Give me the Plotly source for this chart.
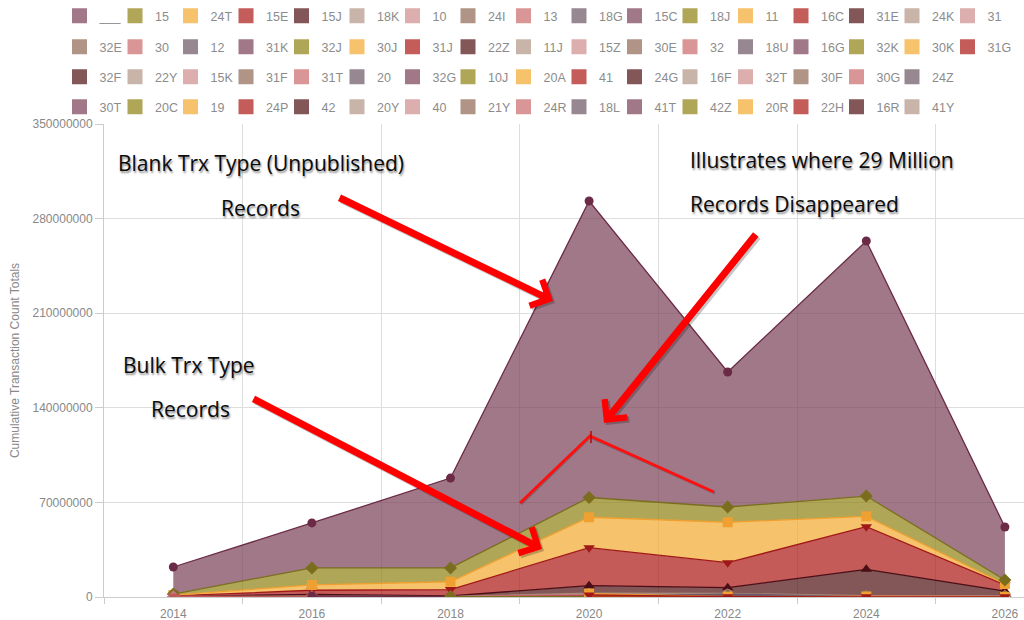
import plotly.graph_objects as go

# ---------------- data ----------------
years = [2014, 2016, 2018, 2020, 2022, 2024, 2026]

legend_row1 = ["___", "15", "24T", "15E", "15J", "18K", "10", "24I", "13", "18G",
               "15C", "18J", "11", "16C", "31E", "24K", "31"]
legend_row2 = ["32E", "30", "12", "31K", "32J", "30J", "31J", "22Z", "11J", "15Z",
               "30E", "32", "18U", "16G", "32K", "30K", "31G"]
legend_row3 = ["32F", "22Y", "15K", "31F", "31T", "20", "32G", "10J", "20A", "41",
               "24G", "16F", "32T", "30F", "30G", "24Z"]
legend_row4 = ["30T", "20C", "19", "24P", "42", "20Y", "40", "21Y", "24R", "18L",
               "41T", "42Z", "20R", "22H", "16R", "41Y"]

# cumulative transaction count totals, in millions
blank_trx = [22.2, 54.8, 88.0, 293.0, 166.5, 263.4, 51.8]
trx_15 = [2.2, 21.5, 21.5, 73.6, 66.6, 74.7, 12.6]
trx_24T = [1.4, 8.9, 11.3, 59.0, 55.3, 59.7, 9.6]
trx_15E = [0.8, 5.0, 5.5, 36.5, 25.4, 52.0, 8.9]
trx_15J = [0.3, 2.0, 0.8, 8.4, 6.9, 20.5, 4.4]
# small series near the baseline, in millions
trx_18K = [0.2, 0.6, 0.3, 2.8, 2.6, 1.0, 0.8]
trx_10 = [0.1, 0.4, 0.2, 2.0, 1.6, 0.6, 0.5]
trx_13 = [0.6, 0.2, 0.1, 1.2, 0.9, 0.3, 0.3]
trx_18G = [None, None, None, 0.6, 2.2, 0.2, 0.2]
trx_15C = [None, 0.8, 0.2, 0.4, 0.5, 0.2, 0.1]
trx_18J = [None, None, 0.3, 0.3, 0.4, 0.2, 0.1]
trx_11 = [None, None, None, 2.5, 0.3, 0.4, 0.2]
trx_16C = [None, None, None, 1.5, 0.2, 0.1, 0.1]

y_ticks = [0, 70000000, 140000000, 210000000, 280000000, 350000000]
x_ticks = [2014, 2016, 2018, 2020, 2022, 2024, 2026]
x_grid = [2013, 2015, 2017, 2019, 2021, 2023, 2025]

# ---------------- style ----------------
swatch = ["#a07888", "#b0a658", "#f6c26c", "#c45c5a", "#835658",
          "#c9b4aa", "#dcaeae", "#b09486", "#da9696", "#968790"]
fills = ["rgba(119,62,85,0.7)", "rgba(142,128,16,0.7)", "rgba(242,168,45,0.7)",
         "rgba(171,22,19,0.7)", "rgba(78,14,16,0.7)", "rgba(178,148,134,0.7)",
         "rgba(205,139,139,0.7)", "rgba(142,102,82,0.7)", "rgba(202,105,105,0.7)",
         "rgba(105,84,96,0.7)"]
lines = ["#6b2a45", "#7a6e1e", "#f0a030", "#a01818", "#4a0e14",
         "#a88a7a", "#c47a7a", "#8a6a58", "#c05858", "#6a5868"]
symbols = ["circle", "diamond", "square", "triangle-down", "triangle-up"]

all_names = legend_row1 + legend_row2 + legend_row3 + legend_row4
idx = {n: i for i, n in enumerate(all_names)}

fig = go.Figure()


def add_series(name, vals, fill):
    i = idx[name]
    fig.add_trace(go.Scatter(
        x=years, y=[None if v is None else v * 1e6 for v in vals],
        name=name, legendgroup=name, showlegend=False,
        mode="lines+markers", fill=fill, fillcolor=fills[i % 10],
        line=dict(color=lines[i % 10], width=1.3),
        marker=dict(symbol=symbols[i % 5], size=9 if i % 5 == 0 else 10,
                    color=lines[i % 10]),
    ))


# main stack, bottom to top
add_series("15J", trx_15J, "tozeroy")
add_series("15E", trx_15E, "tonexty")
add_series("24T", trx_24T, "tonexty")
add_series("15", trx_15, "tonexty")
add_series("___", blank_trx, "tonexty")
for nm, vals in [("18K", trx_18K), ("10", trx_10), ("13", trx_13), ("18G", trx_18G),
                 ("15C", trx_15C), ("18J", trx_18J), ("11", trx_11), ("16C", trx_16C)]:
    add_series(nm, vals, "tozeroy")

# legend entries (square swatches), one legend per row
legend_ids = ["legend", "legend2", "legend3", "legend4"]
for r, row in enumerate([legend_row1, legend_row2, legend_row3, legend_row4]):
    for k, nm in enumerate(row):
        i = idx[nm]
        fig.add_trace(go.Scatter(
            x=[None], y=[None], mode="markers", name=nm, legendgroup=nm,
            legend=legend_ids[r], showlegend=True, hoverinfo="skip",
            legendwidth=(40 if k == len(row) - 1 else None),
            marker=dict(symbol="square", size=15, color=swatch[i % 10],
                        line=dict(width=0)),
        ))

# ---------------- layout ----------------
L, R, T, B = 104, 0, 124, 23
W, H = 1024, 620
PW, PH = W - L - R, H - T - B
x_lo = 2013.0
px_per_year = 69.3
x_hi = x_lo + PW / px_per_year
y_hi = 350000000


def xd(px):
    return x_lo + (px - L) / px_per_year


def yd(py):
    return (H - B - py) / PH * y_hi


def ypaper(py):
    return (H - B - py) / PH


leg_font = dict(family="Arial", size=12.5, color="#8c8c8c")
row_centers = [16, 47, 77, 107]
leg_x = (59.5 - L) / PW
legend_cfg = {}
for r, lid in enumerate(legend_ids):
    legend_cfg[lid] = dict(
        orientation="h", x=leg_x, xanchor="left", y=ypaper(row_centers[r]),
        yanchor="middle", entrywidth=10.5, entrywidthmode="pixels",
        font=leg_font, bgcolor="rgba(0,0,0,0)", borderwidth=0,
    )

ann_font = dict(family="Open Sans", size=21, color="#0a0a0a",
                shadow="1px 2px 2px rgba(0,0,0,0.45)")
annotations = []
for text, px, py, anchor in [
    ("Blank Trx Type (Unpublished)", 260.5, 163, "center"),
    ("Records", 260, 208, "center"),
    ("Illustrates where 29 Million", 688, 160, "left"),
    ("Records Disappeared", 688, 204, "left"),
    ("Bulk Trx Type", 188.5, 365, "center"),
    ("Records", 190, 409, "center"),
]:
    annotations.append(dict(x=xd(px), y=yd(py), xref="x", yref="y", text=text,
                            showarrow=False, xanchor=anchor, yanchor="middle",
                            font=ann_font))

arrows = [((338, 197), (553, 301)),
          ((757, 233), (604, 423)),
          ((252, 398), (542, 549))]
# soft drop shadow first, then the red arrow
for dxp, dyp, col in [(2, 2, "rgba(0,0,0,0.22)"), (0, 0, "#ff0000")]:
    for (tx, ty), (hx, hy) in arrows:
        annotations.append(dict(x=xd(hx + dxp), y=yd(hy + dyp),
                                ax=xd(tx + dxp), ay=yd(ty + dyp),
                                xref="x", yref="y", axref="x", ayref="y", text="",
                                showarrow=True, arrowhead=4, arrowsize=0.8,
                                arrowwidth=7, arrowcolor=col, standoff=0))

shapes = [
    dict(type="path", xref="x", yref="y",
         path="M {} {} L {} {} L {} {}".format(xd(521), yd(504), xd(590), yd(437),
                                              xd(715), yd(493)),
         line=dict(color="rgba(0,0,0,0.2)", width=3)),
    dict(type="path", xref="x", yref="y",
         path="M {} {} L {} {} L {} {}".format(xd(520), yd(503), xd(590), yd(436),
                                              xd(714), yd(492)),
         line=dict(color="#ff1010", width=3)),
    dict(type="line", xref="x", yref="y", x0=xd(591), x1=xd(591), y0=yd(431),
         y1=yd(443), line=dict(color="#c00000", width=1.5)),
]

fig.update_layout(
    width=W, height=H,
    margin=dict(l=L, r=R, t=T, b=B, autoexpand=False),
    paper_bgcolor="white", plot_bgcolor="white",
    font=dict(family="Arial", color="#888888", size=12),
    showlegend=True,
    annotations=annotations, shapes=shapes,
    hovermode="closest",
    **legend_cfg,
)
fig.update_xaxes(
    range=[x_lo, x_hi], tickvals=x_ticks, ticktext=[str(v) for v in x_ticks],
    ticks="outside", ticklen=6, tickcolor="rgba(0,0,0,0)", showgrid=False,
    showline=True, linecolor="#cccccc", linewidth=1, zeroline=False,
    tickfont=dict(size=12, color="#888888"),
    minor=dict(tickvals=x_grid, ticks="outside", ticklen=6, tickcolor="#cccccc",
               showgrid=True, gridcolor="#dddddd", gridwidth=1),
)
fig.update_yaxes(
    range=[0, y_hi], tickvals=y_ticks, ticktext=[str(v) for v in y_ticks],
    ticks="outside", ticklen=8, tickcolor="#cccccc",
    showgrid=True, gridcolor="#dddddd", gridwidth=1,
    showline=True, linecolor="#cccccc", linewidth=1, zeroline=False,
    tickfont=dict(size=12, color="#888888"),
    title=dict(text="Cumulative Transaction Count Totals", standoff=10,
               font=dict(size=12, color="#888888")),
)

fig.write_html("out.html", config={"displayModeBar": False},
               post_script="document.body.style.margin='0';")
